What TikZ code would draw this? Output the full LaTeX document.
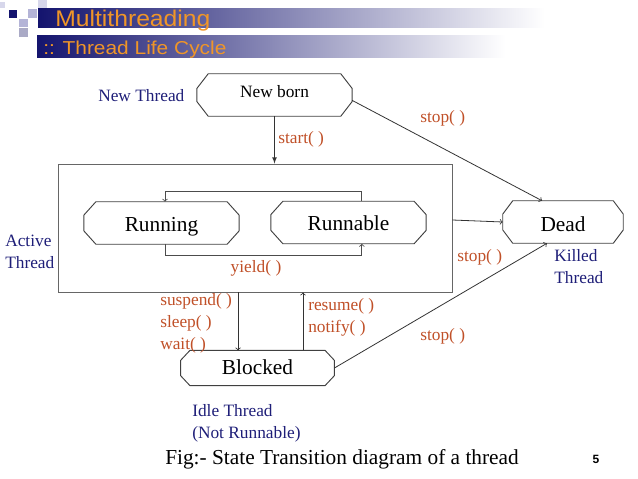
\documentclass[tikz,border=0pt]{standalone}
\usepackage{fontspec}
\setmainfont{Liberation Serif}
\newfontfamily\headfont{Liberation Sans}
\definecolor{callred}{RGB}{192,80,40}
\definecolor{notenavy}{RGB}{30,30,120}
\definecolor{headnavy}{RGB}{20,20,110}
\definecolor{headorange}{RGB}{240,150,40}
\definecolor{lavender}{RGB}{180,180,215}
\definecolor{paleblue}{RGB}{215,215,235}

\begin{document}
\begin{tikzpicture}
        [x=0.75pt, y=-0.75pt,
        state/.style={rectangle, minimum width=116pt, minimum height=31.5pt, inner sep=0pt,
            text height=12pt, text depth=0pt, font=\fontsize{16}{19}\selectfont},
        statebox/.style={draw=black!75, line width=0.7pt},
        edge/.style={->, draw=black!80, line width=0.6pt},
        loopedge/.style={->, draw=black!70, line width=0.6pt},
        call/.style={text=callred, font=\fontsize{13}{16.5}\selectfont,
            inner sep=0pt, anchor=west, align=left},
        note/.style={text=notenavy, font=\fontsize{13}{16.5}\selectfont,
            inner sep=0pt, anchor=west, align=left}]

        \useasboundingbox (0,0) rectangle (638,478);

        % header
        \fill[paleblue] (0,2) rectangle (5,8);
        \fill[headnavy] (9,10) rectangle (17,18);
        \fill[lavender] (28,9) rectangle (37,18);
        \fill[paleblue] (38,0) rectangle (47,8);
        \fill[lavender] (19,19) rectangle (28,27);
        \fill[lavender!80!gray] (19,28) rectangle (28,37);
        \shade[left color=headnavy, right color=white] (38,9) rectangle (545,28);
        \shade[left color=headnavy, right color=white] (37,36) rectangle (505,58);
        \node[anchor=base west, inner sep=0pt, text=headorange, font=\headfont\fontsize{17}{20}\selectfont] (title) at (55,27) {\scalebox{1.09}[1]{Multithreading}};
        \node[anchor=base west, inner sep=0pt, text=headorange, font=\headfont\fontsize{14}{17}\selectfont] (subtitle) at (43,55) {\scalebox{1.12}[1]{:: Thread Life Cycle}};

        % states
        \node[state, text height=4pt, font=\fontsize{13}{15}\selectfont] (newborn) at (274.5,95) {New born};
        \node[draw=black!60, line width=0.7pt, minimum width=295.5pt, minimum height=96pt, inner sep=0pt] (active) at (255,228) {};
        \node[state] (running) at (161.5,223) {Running};
        \node[state] (runnable) at (348.5,222.5) {Runnable};
        \node[state, text height=13.5pt, minimum width=90pt] (dead) at (563,222) {Dead};
        \node[state, text height=9pt, minimum width=115pt, minimum height=26pt] (blocked) at (257.5,368) {Blocked};

        % chamfered outlines
        \foreach \n/\cx/\cy in {newborn/8.5/11, running/9/10, runnable/9/10, dead/7.5/10, blocked/7/7.5}
            \draw[statebox] ([xshift=\cx pt]\n.north west) -- ([xshift=-\cx pt]\n.north east)
                -- ([yshift=-\cy pt]\n.north east) -- ([yshift=\cy pt]\n.south east)
                -- ([xshift=-\cx pt]\n.south east) -- ([xshift=\cx pt]\n.south west)
                -- ([yshift=\cy pt]\n.south west) -- ([yshift=-\cy pt]\n.north west) -- cycle;

        \coordinate (susp) at ([xshift=-14.6pt]blocked.north);
        \coordinate (resm) at ([xshift=34.1pt]blocked.north);

        % transitions
        \draw[edge, -latex] (newborn) -- (newborn |- active.north);
        \draw[loopedge] ([xshift=10pt]runnable.north) -- ++(0,-10) -| ([xshift=2.6pt]running.north);
        \draw[loopedge] ([xshift=2.6pt]running.south) -- ++(0,11) -| ([xshift=10pt]runnable.south);
        \draw[edge] ([yshift=-4pt]newborn.east) -- ([xshift=-15.7pt]dead.north);
        \draw[edge] ([yshift=6pt]active.east) -- (dead.west);
        \draw[edge] (blocked.east) -- ([xshift=-12pt]dead.south);
        \draw[edge] (susp |- active.south) -- (susp);
        \draw[edge] (resm) -- (resm |- active.south);

        % labels
        \node[note] (newlbl) at (98,96) {New Thread};
        \node[note] (activelbl) at (5,252) {Active\\Thread};
        \node[note] (killedlbl) at (554,267) {Killed\\Thread};
        \node[note] (idlelbl) at (192,423) {Idle Thread\\(Not Runnable)};
        \node[call] (startlbl) at (278,139) {start( )};
        \node[call] (stoptop) at (420,118) {stop( )};
        \node[call] (stopmid) at (457,257) {stop( )};
        \node[call] (stopbot) at (420,336) {stop( )};
        \node[call, anchor=center] (yieldlbl) at (256,268) {yield( )};
        \node[call] (susplbl) at (160,323) {suspend( )\\sleep( )\\wait( )};
        \node[call] (resmlbl) at (308,317) {resume( )\\notify( )};
        \node[anchor=west, inner sep=0pt, font=\fontsize{16}{19}\selectfont] (caption) at (165,459) {Fig:- State Transition diagram of a thread};
        \node[font=\headfont\bfseries\fontsize{9}{10}\selectfont] (pagenum) at (596,459) {5};

\end{tikzpicture}
\end{document}
